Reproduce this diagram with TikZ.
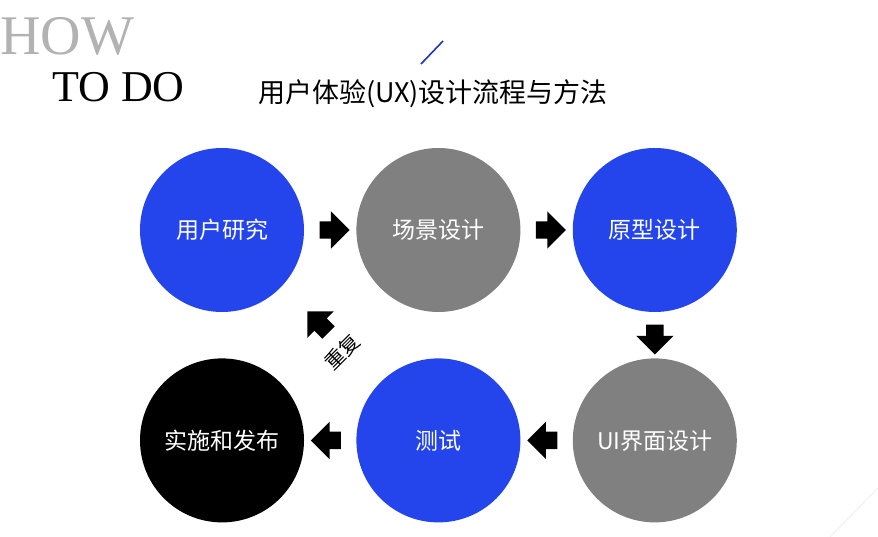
\documentclass[tikz,border=0pt]{standalone}
\usepackage{fontspec}
\setmainfont{Liberation Serif}
\newfontfamily\cjk{Noto Sans CJK SC}
\usetikzlibrary{calc,positioning,shapes.arrows}
\definecolor{uxblue}{RGB}{35,69,235}
\definecolor{uxgray}{RGB}{128,128,128}
\definecolor{howgray}{RGB}{178,178,178}

\begin{document}
\begin{tikzpicture}[x=1pt,y=-1pt,
node distance=46pt and 52pt,
stage/.style={circle, minimum size=164pt, inner sep=0pt, text=white, font=\cjk\fontsize{23}{27}\selectfont},
bluestage/.style={stage, fill=uxblue},
graystage/.style={stage, fill=uxgray},
blackstage/.style={stage, fill=black},
flow/.style={single arrow, fill=black, inner sep=8.5pt, minimum height=30pt, single arrow head extend=10pt}
]
\useasboundingbox (0,0) rectangle (878,537);

% heading
\node[anchor=base west, inner sep=0pt, text=howgray, font=\fontsize{56}{60}\selectfont] (how) at (0,55) {HOW};
\node[anchor=base west, inner sep=0pt, font=\fontsize{44}{48}\selectfont] (todo) at (52,102) {TO DO};
\node[anchor=base, inner sep=0pt, font=\cjk\fontsize{27}{31}\selectfont] (title) at (433,103) {用户体验(UX)设计流程与方法};
\coordinate (slasha) at (421,64);
\coordinate (slashb) at (443,41);
\draw[uxblue!80!black, line width=1.6pt] (slasha) -- (slashb);

% stages
\node[bluestage] (research) at (222,230) {用户研究};
\node[graystage, right=of research] (scene) {场景设计};
\node[bluestage, right=of scene] (proto) {原型设计};
\node[graystage, below=of proto] (ui) {UI界面设计};
\node[bluestage, left=of ui] (test) {测试};
\node[blackstage, left=of test] (release) {实施和发布};

% arrows between stages
\node[flow] (a1) at ($(research)!0.5!(scene)$) {};
\node[flow] (a2) at ($(scene)!0.5!(proto)$) {};
\node[flow, rotate=-90] (a3) at ($(proto)!0.5!(ui)$) {};
\node[flow, rotate=180] (a4) at ($(ui)!0.5!(test)$) {};
\node[flow, rotate=180] (a5) at ($(test)!0.5!(release)$) {};
\node[flow, rotate=135] (again) at (321,325) {};
\node[font=\cjk\fontsize{20}{24}\selectfont, rotate=45, inner sep=0pt] (againtext) at (342,352) {重复};

% corner mark
\coordinate (corna) at (830,537);
\coordinate (cornb) at (878,488);
\draw[gray!12, line width=1pt] (corna) -- (cornb);
\end{tikzpicture}
\end{document}
